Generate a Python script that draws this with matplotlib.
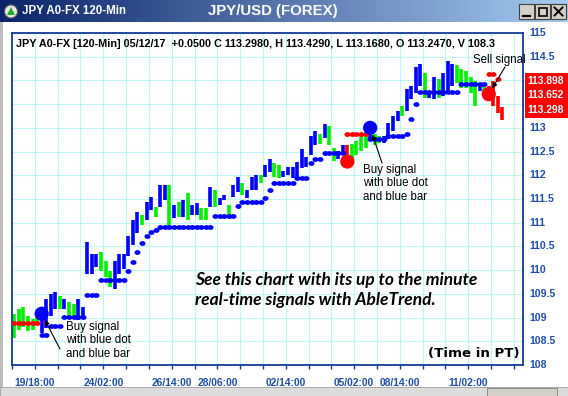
import numpy as np
import matplotlib
matplotlib.use("Agg")
import matplotlib.pyplot as plt
from matplotlib.colors import LinearSegmentedColormap
from matplotlib.patches import Rectangle, Circle, Polygon
from matplotlib.path import Path
import matplotlib.transforms as mtransforms

W, H = 568, 396
N = np.nan

# 120-min bars (high / low)
bar_high = [109.08, 109.19, 109.23, 109.04, 108.98, 109.12, 109.12, 109.40, 109.50, 109.54,
            109.46, 109.40, 109.33, 109.29, 109.40, 109.23, 110.60, 110.33, 110.33, 110.38,
            110.19, 109.98, 110.20, 110.33, 110.33, 110.71, 111.06, 111.23, 111.17, 111.44,
            111.54, 111.33, 111.79, 111.79, 111.80, 111.38, 111.44, 111.48, 111.63, 111.38,
            111.42, 111.31, 111.31, 111.75, 111.69, 111.52, 111.58, 111.38, 111.79, 111.96,
            111.83, 111.69, 111.96, 112.00, 112.00, 112.21, 112.35, 112.25, 112.21, 112.10,
            112.17, 112.17, 112.27, 112.56, 112.38, 112.83, 112.94, 112.88, 113.08, 113.04,
            112.58, 112.52, 112.63, 112.63, 112.67, 112.73, 112.88, 112.83, 112.94, 112.88,
            112.83, 112.83, 113.10, 113.25, 113.35, 113.46, 113.81, 113.88, 114.29, 114.35,
            114.15, 113.77, 114.08, 114.02, 114.15, 114.40, 114.35, 114.33, 114.25, 114.19,
            114.08, 113.98, 113.94, 113.88, 113.88, 113.98, 113.67, 113.43]
bar_low = [108.56, 108.73, 108.81, 108.71, 108.73, 108.88, 108.67, 108.77, 109.04, 109.19,
           109.19, 109.19, 109.04, 109.02, 108.94, 108.98, 109.92, 109.92, 110.06, 109.98,
           109.85, 109.65, 109.60, 109.92, 110.02, 110.29, 110.54, 110.79, 110.96, 111.06,
           111.27, 111.13, 111.33, 111.48, 110.92, 111.10, 111.13, 111.13, 111.06, 111.17,
           111.17, 111.06, 111.06, 111.33, 111.33, 111.38, 111.48, 111.17, 111.54, 111.65,
           111.58, 111.52, 111.69, 111.69, 111.83, 111.96, 112.06, 111.96, 111.94, 111.96,
           112.00, 111.94, 111.94, 112.15, 112.17, 112.42, 112.63, 112.67, 112.79, 112.63,
           112.31, 112.35, 112.42, 112.27, 112.35, 112.42, 112.52, 112.58, 112.73, 112.63,
           112.69, 112.69, 112.77, 112.94, 113.15, 113.25, 113.35, 113.60, 113.73, 113.88,
           113.63, 113.63, 113.60, 113.63, 113.67, 113.71, 113.88, 113.94, 113.83, 113.83,
           113.73, 113.46, 113.77, 113.67, 113.63, 113.46, 113.31, 113.17]
bar_color = ("ggggggbbbb" "gbggbbbbbg" "ggbbbbbbgb" "bgbbgbgbgb" "bggbgbbgbb"
             "gbbbgbbggb" "bbbbbbbgbg" "gbbrggggbg" "gbbbbgbbbb" "gbbgbbbggg" "ggbgrrrr")

# trailing stop dots
blue_stop = [N, N, N, N, N, N, 108.63, 108.63, 108.83, 108.83,
             108.83, 109.02, 109.02, 109.02, 109.02, 109.02, 109.48, 109.48, 109.48, 109.79,
             109.79, 109.79, 109.79, 109.79, 109.79, 109.98, 110.17, 110.38, 110.58, 110.71,
             110.81, 110.85, 110.90, 110.90, 110.90, 110.90, 110.90, 110.90, 110.90, 110.90,
             110.90, 110.90, 110.90, 110.90, 111.15, 111.15, 111.15, 111.15, 111.15, 111.35,
             111.44, 111.44, 111.44, 111.44, 111.44, 111.52, 111.69, 111.83, 111.83, 111.83,
             111.83, 111.83, 111.94, 111.94, 111.94, 112.25, 112.35, 112.35, 112.46, 112.46,
             112.46, 112.46, 112.46, N, N, N, N, N, 112.77, 112.77,
             112.77, 112.77, 112.83, 112.83, 112.83, 112.83, 112.88, 113.19, 113.50, 113.75,
             113.75, 113.75, 113.75, 113.75, 113.75, 113.75, 113.75, 113.75, 113.92, 113.92,
             113.92, 113.92, 113.92, 113.92, N, N, N, N]
red_stop = [108.88, 108.88, 108.88, 108.88, 108.88, 108.88, N, N, N, N,
            N, N, N, N, N, N, N, N, N, N,
            N, N, N, N, N, N, N, N, N, N,
            N, N, N, N, N, N, N, N, N, N,
            N, N, N, N, N, N, N, N, N, N,
            N, N, N, N, N, N, N, N, N, N,
            N, N, N, N, N, N, N, N, N, N,
            N, N, N, 112.88, 112.88, 112.88, 112.88, 112.88, N, N,
            N, N, N, N, N, N, N, N, N, N,
            N, N, N, N, N, N, N, N, N, N,
            N, N, N, N, 114.13, 114.13, 114.02, N]

# buy / sell signals
sig_idx = [6, 73, 78, 104]
sig_price = [109.08, 112.29, 113.00, 113.71]
sig_color = ["b", "r", "b", "r"]

x_tick_pos = [5, 20, 35, 45, 60, 75, 85, 100]
x_tick_labels = ["19/18:00", "24/02:00", "26/14:00", "28/06:00",
                 "02/14:00", "05/02:00", "08/14:00", "11/02:00"]
y_levels = [108, 108.5, 109, 109.5, 110, 110.5, 111, 111.5, 112, 112.5, 113, 113.5, 114, 114.5, 115]
y_hidden = [113.5, 114]          # covered by the red price box
box_prices = ["113.898", "113.652", "113.298"]

header = ("JPY A0-FX [120-Min] 05/12/17  +0.0500 C 113.2980, H 113.4290, "
          "L 113.1680, O 113.2470, V 108.3")

cmap = {"b": "#0000ff", "g": "#00f000", "r": "#ff0000"}
navy = "#143a96"
lab_blue = "#1f4ea3"

fig = plt.figure(figsize=(W / 100, H / 100), dpi=100)
fig.patch.set_facecolor("white")

ax = fig.add_axes([12 / W, (H - 365) / H, (523 - 12) / W, (365 - 33) / H])
ax.set_xlim(0, 112)
ax.set_ylim(108.04, 114.96)
ax.set_facecolor("white")
ax.set_axisbelow(True)
ax.set_xticks(np.arange(0, 113, 5))
ax.set_xticklabels([""] * len(np.arange(0, 113, 5)))
ax.set_yticks(y_levels)
ax.set_yticklabels([])
ax.tick_params(axis="y", length=0)
ax.tick_params(axis="x", direction="out", length=3, color=navy, width=1)
ax.grid(True, color="#bff5f5", lw=0.8)
for s in ax.spines.values():
    s.set_color(navy)
    s.set_linewidth(1.3)

xs = np.arange(len(bar_high)) + 0.5
ax.vlines(xs, bar_low, bar_high, colors=[cmap[c] for c in bar_color], lw=2.6, zorder=2)

th = np.linspace(0, 2 * np.pi, 24)
ell = Path(np.column_stack([np.cos(th), 0.72 * np.sin(th)]))
ax.plot(xs, blue_stop, ls="none", marker=ell, ms=3.4, color=cmap["b"], zorder=3)
ax.plot(xs, red_stop, ls="none", marker=ell, ms=3.4, color=cmap["r"], zorder=3)

ax.scatter(np.array(sig_idx) + 0.5, sig_price, s=105, c=[cmap[c] for c in sig_color],
           zorder=4, linewidths=0)

# x labels
xtr = mtransforms.blended_transform_factory(ax.transData, ax.transAxes)
for p, t in zip(x_tick_pos, x_tick_labels):
    ax.text(p, -0.04, t, transform=xtr, ha="center", va="top", fontsize=7.4,
            fontweight="bold", color=lab_blue, family="Liberation Sans")
# y labels
ytr = mtransforms.blended_transform_factory(ax.transAxes, ax.transData)
for v in y_levels:
    if v in y_hidden:
        continue
    ax.text(1.013, v, "%g" % v, transform=ytr, ha="left", va="center", fontsize=7.6,
            fontweight="bold", color=lab_blue, family="Liberation Sans", clip_on=False)

# overlay in pixel coordinates for window chrome and notes
ov = fig.add_axes([0, 0, 1, 1], zorder=5)
ov.set_xlim(0, W)
ov.set_ylim(H, 0)
ov.axis("off")

grad = LinearSegmentedColormap.from_list("tb", ["#0a246a", "#a6caf0"])
ov.imshow(np.linspace(0, 1, 256)[None, :], cmap=grad, extent=(0, W, 22, 0), aspect="auto")
ov.text(22, 11.5, "JPY A0-FX 120-Min", color="white", fontsize=8.3, fontweight="bold",
        va="center", family="Liberation Sans")
ov.text(273, 10.5, "JPY/USD (FOREX)", color="white", fontsize=10.8, fontweight="bold",
        va="center", ha="center", family="Liberation Sans")
ov.add_patch(Circle((11, 11.5), 6.5, facecolor="#e8e8e8", edgecolor="#606060", lw=0.8))
ov.add_patch(Polygon([[7, 15], [15, 15], [11, 7]], facecolor="#20b020", edgecolor="none"))
for bx in (519, 535, 551):
    ov.add_patch(Rectangle((bx, 4), 15, 15, facecolor="#d4d0c8", edgecolor="#404040", lw=0.8))
ov.plot([523, 530], [16, 16], color="black", lw=1.6)
ov.add_patch(Rectangle((538.5, 7.5), 8, 8, facecolor="none", edgecolor="black", lw=1.2))
ov.plot([554.5, 562.5], [7.5, 15.5], color="black", lw=1.4)
ov.plot([554.5, 562.5], [15.5, 7.5], color="black", lw=1.4)

ov.add_patch(Rectangle((0, 22), 3, H - 22, facecolor="#bdbdbd", edgecolor="none"))
ov.add_patch(Rectangle((0, 387), W, 9, facecolor="#dcdcdc", edgecolor="#a0a0a0", lw=0.6))
ov.add_patch(Rectangle((487, 388), 70, 8, facecolor="#d4d0c8", edgecolor="#808080", lw=0.6))

ov.text(16, 44, header, fontsize=7.8, fontweight="bold", va="center", family="Liberation Sans")

# red price box over the axis
ov.add_patch(Rectangle((525, 73), 43, 45, facecolor="#ff0000", edgecolor="none"))
for yy, t in zip([81, 95, 110], box_prices):
    ov.text(527, yy, t, fontsize=7.4, fontweight="bold", color="#c8ffff", va="center",
            family="Liberation Sans")

note = dict(fontsize=8.3, family="Liberation Sans", color="black", linespacing=1.15)
ov.text(66, 321, "Buy signal\nwith blue dot\nand blue bar", va="top", **note)
ov.text(363, 164, "Buy signal\nwith blue dot\nand blue bar", va="top", **note)
ov.text(473, 60, "Sell signal", va="center", **note)

arr = dict(arrowstyle="-|>", color="black", lw=0.8, mutation_scale=7, shrinkA=0, shrinkB=5)
ax.annotate("", xy=(sig_idx[0] + 0.5, sig_price[0]), xytext=(60, H - 349),
            textcoords="figure pixels", arrowprops=arr, zorder=6)
ax.annotate("", xy=(sig_idx[2] + 0.5, sig_price[2]), xytext=(382, H - 163),
            textcoords="figure pixels", arrowprops=arr, zorder=6)
ax.annotate("", xy=(sig_idx[3] + 0.5, sig_price[3]), xytext=(505, H - 67),
            textcoords="figure pixels", arrowprops=arr, zorder=6, annotation_clip=False)

ov.text(195, 280, "See this chart with its up to the minute", fontsize=12.5, family="Lato",
        style="italic", fontweight="bold", va="center")
ov.text(195, 300, "real-time signals with AbleTrend.", fontsize=12.5, family="Lato",
        style="italic", fontweight="bold", va="center")
ov.text(520, 354, "(Time in PT)", fontsize=9.6, family="DejaVu Sans", fontweight="bold",
        ha="right", va="center")

fig.savefig("out.png", dpi=100)
